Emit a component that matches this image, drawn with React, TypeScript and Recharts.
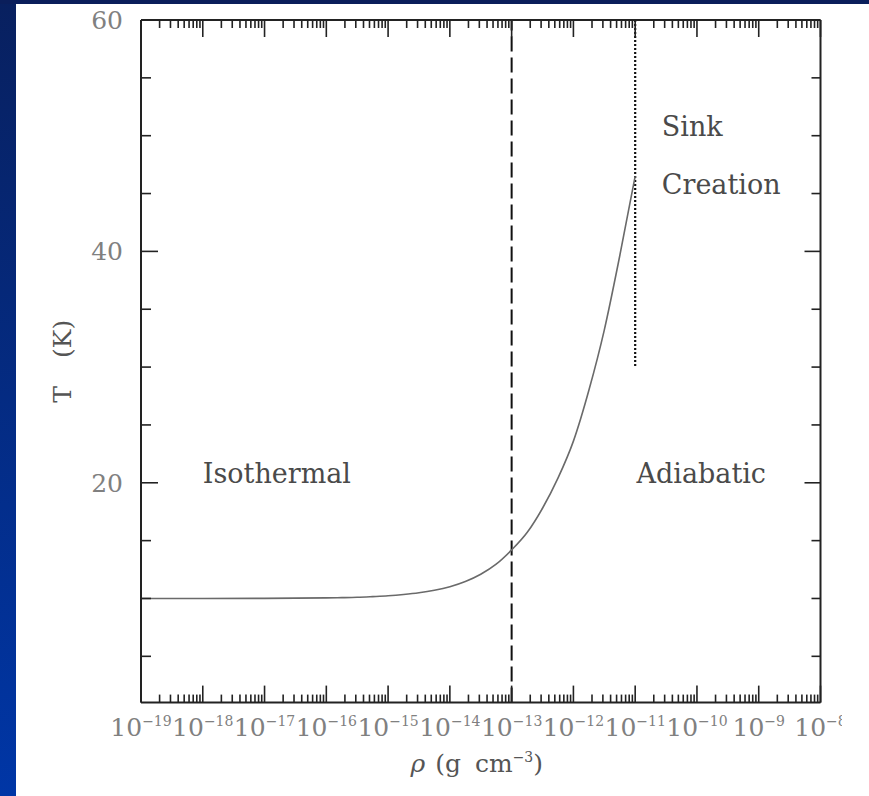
import React from 'react';
import { LineChart, Line, XAxis, YAxis, ReferenceLine, ReferenceDot } from 'recharts';

// Barotropic equation of state: temperature (K) against density (g cm^-3)
const rho = [
  1e-19, 1e-18, 1e-17, 1e-16, 1.78e-16, 3.16e-16, 5.62e-16, 1e-15, 1.78e-15, 3.16e-15,
  5.62e-15, 1e-14, 1.78e-14, 3.16e-14, 5.62e-14, 1e-13, 1.78e-13, 3.16e-13, 5.62e-13, 1e-12,
  1.78e-12, 3.16e-12, 5.62e-12, 1e-11,
];
const temp = [
  10.0, 10.0, 10.01, 10.05, 10.07, 10.1, 10.16, 10.23, 10.34, 10.49,
  10.71, 11.02, 11.47, 12.1, 12.97, 14.2, 15.7, 17.8, 20.4, 23.6,
  28.0, 33.2, 39.6, 46.5,
];

// axis ticks (decade exponents of the density)
const decades = [-19, -18, -17, -16, -15, -14, -13, -12, -11, -10, -9, -8];
const decadeExp = ['−19', '−18', '−17', '−16', '−15', '−14', '−13', '−12', '−11', '−10', '−9', '−8'];
const minorSteps = [2, 3, 4, 5, 6, 7, 8, 9];
const tempTicks = [20, 40, 60];
const tempMinor = [5, 10, 15, 25, 30, 35, 45, 50, 55];

// regime boundaries
const adiabaticRho = 1e-13;
const sinkRho = 1e-11;
const sinkRange = [60, 30];

// region notes
const noteText = ['Isothermal', 'Adiabatic', 'Sink', 'Creation'];
const noteRho = [1e-18, 1.05e-11, 2.7e-11, 2.7e-11];
const noteT = [20, 20, 50, 45];

// the x axis runs in log10(rho)
const lg = Math.log10;
const points = rho.map((r, i) => ({ lr: lg(r), T: temp[i] }));
const minorTicks = decades.slice(0, -1).flatMap((d) => minorSteps.map((m) => d + lg(m)));

const SERIF = '"DejaVu Serif", serif';
const INK = '#222';
const tickStroke = { stroke: INK, strokeWidth: 1.6 };
const frameStroke = { stroke: INK, strokeWidth: 2 };
// mirrored axes stack inward by their size, so keep it tiny
const THIN = 0.01;

// tick marks only, no label
const NoLabel = () => <g />;

const xCommon = {
  type: 'number' as const,
  dataKey: 'lr',
  domain: [-19, -8] as [number, number],
  allowDataOverflow: true,
  interval: 0 as const,
  stroke: INK,
};
const yCommon = {
  type: 'number' as const,
  domain: [1, 60] as [number, number],
  allowDataOverflow: true,
  interval: 0 as const,
  stroke: INK,
};

const RhoTick = (props: any) => {
  const { x, y, index } = props;
  return (
    <text x={x} y={y + 23} textAnchor="middle" fill="#808080" fontFamily={SERIF}>
      <tspan fontSize={25}>10</tspan>
      <tspan fontSize={14} dy={-10}>{decadeExp[index]}</tspan>
    </text>
  );
};

const XTitle = (props: any) => {
  const vb = props.viewBox;
  return (
    <text x={vb.x + vb.width / 2 - 4} y={vb.y + 69.5} textAnchor="middle" fill="#555" fontFamily={SERIF} fontSize={25}>
      <tspan fontStyle="italic">ρ</tspan>
      <tspan dx={10}>(g</tspan>
      <tspan dx={14}>cm</tspan>
      <tspan fontSize={14} dy={-10}>−3</tspan>
      <tspan dy={10}>)</tspan>
    </text>
  );
};

const YTitle = (props: any) => {
  const vb = props.viewBox;
  const cx = vb.x + 32;
  const cy = vb.y + vb.height / 2;
  return (
    <text
      x={cx}
      y={cy}
      transform={`rotate(-90, ${cx}, ${cy})`}
      textAnchor="middle"
      dominantBaseline="central"
      fill="#555"
      fontFamily={SERIF}
      fontSize={25}
    >
      <tspan>T</tspan>
      <tspan dx={28}>(K)</tspan>
    </text>
  );
};

const Note = (text: string) => (props: any) => (
  <text x={props.cx} y={props.cy} fill="#4a4a4a" fontFamily={SERIF} fontSize={27}>
    {text}
  </text>
);

export default function App() {
  return (
    <div
      style={{
        position: 'fixed',
        left: 0,
        top: 0,
        width: 869,
        height: 796,
        background: 'linear-gradient(to bottom, #08205f, #0036a6)',
        overflow: 'hidden',
      }}
    >
      <div style={{ position: 'absolute', left: 0, top: 0, right: 0, height: 4, background: '#0a1e5b' }} />
      <div style={{ position: 'absolute', left: 16, top: 4, right: 0, bottom: 0, background: '#fff' }} />
      <div style={{ position: 'absolute', left: 0, top: 0 }}>
        <LineChart width={842} height={796} data={points} margin={{ top: 20, right: 21.5, bottom: 63.4, left: 30 }}>
          {/* tick labels and titles */}
          <XAxis
            xAxisId="rho"
            {...xCommon}
            ticks={decades}
            height={30}
            tickSize={0}
            tickMargin={10}
            tickLine={false}
            axisLine={false}
            tick={<RhoTick />}
            label={(p: any) => <XTitle {...p} />}
          />
          <YAxis
            yAxisId="T"
            {...yCommon}
            ticks={tempTicks}
            width={111}
            tickSize={0}
            tickMargin={18}
            tickLine={false}
            axisLine={false}
            tick={{ fill: '#808080', fontSize: 25, fontFamily: SERIF }}
            label={(p: any) => <YTitle {...p} />}
          />

          {/* inward ticks and the frame */}
          <XAxis xAxisId="bMaj" {...xCommon} orientation="bottom" mirror height={THIN} ticks={decades} tickSize={17} tick={NoLabel} tickLine={tickStroke} axisLine={frameStroke} />
          <XAxis xAxisId="bMin" {...xCommon} orientation="bottom" mirror height={THIN} ticks={minorTicks} tickSize={8} tick={NoLabel} tickLine={tickStroke} axisLine={false} />
          <XAxis xAxisId="tMaj" {...xCommon} orientation="top" mirror height={THIN} ticks={decades} tickSize={17} tick={NoLabel} tickLine={tickStroke} axisLine={frameStroke} />
          <XAxis xAxisId="tMin" {...xCommon} orientation="top" mirror height={THIN} ticks={minorTicks} tickSize={8} tick={NoLabel} tickLine={tickStroke} axisLine={false} />
          <YAxis yAxisId="lMaj" {...yCommon} orientation="left" mirror width={THIN} ticks={tempTicks} tickSize={17} tick={NoLabel} tickLine={tickStroke} axisLine={frameStroke} />
          <YAxis yAxisId="lMin" {...yCommon} orientation="left" mirror width={THIN} ticks={tempMinor} tickSize={10} tick={NoLabel} tickLine={tickStroke} axisLine={false} />
          <YAxis yAxisId="rMaj" {...yCommon} orientation="right" mirror width={THIN} ticks={tempTicks} tickSize={16} tick={NoLabel} tickLine={tickStroke} axisLine={frameStroke} />
          <YAxis yAxisId="rMin" {...yCommon} orientation="right" mirror width={THIN} ticks={tempMinor} tickSize={9} tick={NoLabel} tickLine={tickStroke} axisLine={false} />

          <ReferenceLine xAxisId="rho" yAxisId="T" x={lg(adiabaticRho)} stroke="#111" strokeWidth={2} strokeDasharray="15 6" />
          <ReferenceLine
            xAxisId="rho"
            yAxisId="T"
            segment={[
              { x: lg(sinkRho), y: sinkRange[0] },
              { x: lg(sinkRho), y: sinkRange[1] },
            ]}
            stroke="#111"
            strokeWidth={2.2}
            strokeDasharray="2 2"
          />

          <Line
            xAxisId="rho"
            yAxisId="T"
            dataKey="T"
            type="monotone"
            stroke="#6a6a6a"
            strokeWidth={1.6}
            dot={false}
            isAnimationActive={false}
          />

          {noteText.map((t, i) => (
            <ReferenceDot key={t} xAxisId="rho" yAxisId="T" x={lg(noteRho[i])} y={noteT[i]} r={0} shape={Note(t)} />
          ))}
        </LineChart>
      </div>
    </div>
  );
}
